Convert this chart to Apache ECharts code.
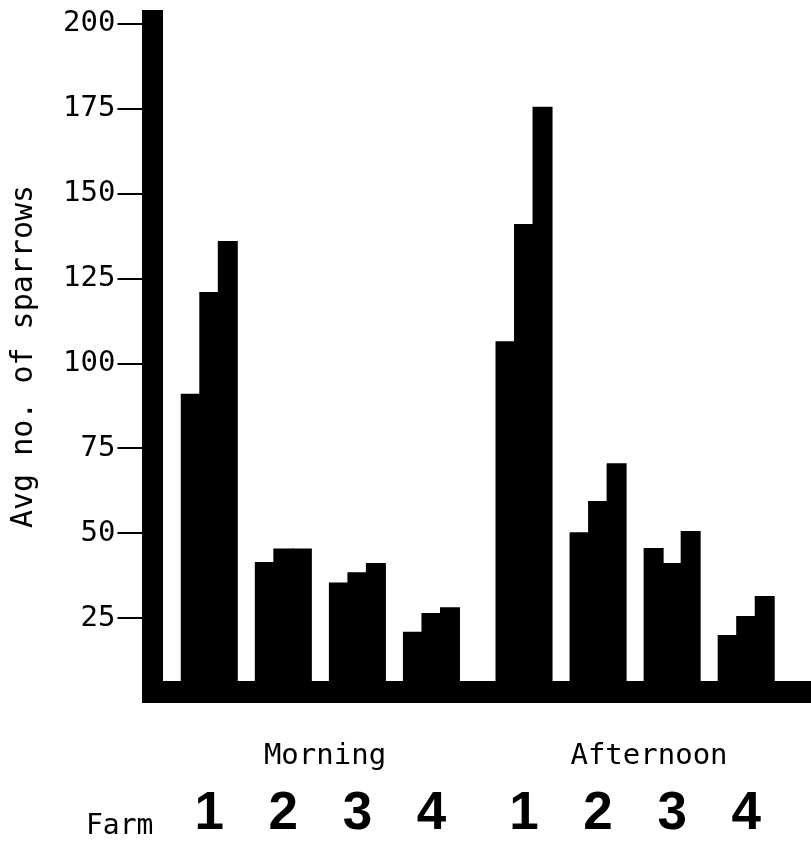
<!DOCTYPE html>
<html>
<head>
<meta charset="utf-8">
<script src="https://cdn.jsdelivr.net/npm/echarts@6/dist/echarts.min.js"></script>
<style>
html,body{margin:0;padding:0;background:#fff;}
#chart{width:811px;height:842px;}
</style>
</head>
<body>
<div id="chart"></div>
<script>
// ---- data ----
const periods = ['Morning', 'Afternoon'];
const farms = ['1', '2', '3', '4'];
const morningFarm1 = [91, 121, 136];
const morningFarm2 = [41.5, 45.5, 45.5];
const morningFarm3 = [35.5, 38.5, 41.2];
const morningFarm4 = [21, 26.5, 28.2];
const afternoonFarm1 = [106.5, 141, 175.5];
const afternoonFarm2 = [50.3, 59.5, 70.6];
const afternoonFarm3 = [45.6, 41.2, 50.6];
const afternoonFarm4 = [20, 25.6, 31.5];
const yTicks = [25, 50, 75, 100, 125, 150, 175, 200];
const yMax = 204;

// ---- build category slots: gaps and bars ----
const groups = {
  Morning: [morningFarm1, morningFarm2, morningFarm3, morningFarm4],
  Afternoon: [afternoonFarm1, afternoonFarm2, afternoonFarm3, afternoonFarm4]
};
const slots = [];
const values = [];
let gapCount = 0;
function addGap() { slots.push('gap' + (gapCount++)); values.push(null); }
periods.forEach(function (p, pi) {
  if (pi > 0) addGap();
  addGap();
  groups[p].forEach(function (arr, fi) {
    if (fi > 0) addGap();
    arr.forEach(function (v, bi) {
      slots.push(p + '|' + farms[fi] + '|' + bi);
      values.push(v);
    });
  });
});
addGap(); addGap();

const chart = echarts.init(document.getElementById('chart'));
chart.setOption({
  animation: false,
  backgroundColor: '#fff',
  grid: { left: 163, right: 0, top: 10, bottom: 139, containLabel: false },
  xAxis: [{
    type: 'category',
    data: slots,
    position: 'bottom',
    offset: -11,
    axisLine: { show: true, lineStyle: { color: '#000', width: 22, cap: 'butt' } },
    axisTick: { show: false },
    axisLabel: {
      interval: 0,
      margin: 122,
      verticalAlign: 'middle',
      color: '#000',
      fontFamily: 'Liberation Sans',
      fontWeight: 'bold',
      fontSize: 53,
      lineHeight: 53,
      formatter: function (v) {
        const parts = v.split('|');
        return (parts.length === 3 && parts[2] === '1') ? parts[1] : '';
      }
    },
    splitLine: { show: false }
  }, {
    type: 'category',
    data: periods,
    position: 'bottom',
    offset: 0,
    axisLine: { show: false },
    axisTick: { show: false },
    axisLabel: {
      interval: 0,
      margin: 53,
      verticalAlign: 'middle',
      color: '#000',
      fontFamily: 'DejaVu Sans Mono',
      fontSize: 29
    },
    splitLine: { show: false }
  }],
  yAxis: {
    type: 'value',
    min: 0,
    max: yMax,
    offset: 10.5,
    axisLine: { show: true, lineStyle: { color: '#000', width: 21, cap: 'butt' } },
    axisTick: { show: true, customValues: yTicks, length: 35, lineStyle: { color: '#000', width: 2 } },
    axisLabel: {
      customValues: yTicks,
      margin: 37,
      color: '#000',
      fontFamily: 'DejaVu Sans Mono',
      fontSize: 29
    },
    splitLine: { show: false },
    name: 'Avg no. of sparrows',
    nameLocation: 'middle',
    nameGap: 113,
    nameTextStyle: { color: '#000', fontFamily: 'DejaVu Sans Mono', fontSize: 30 }
  },
  series: [{
    type: 'bar',
    data: values,
    barWidth: 20,
    barCategoryGap: 0,
    itemStyle: { color: '#000' },
    z: 3
  }],
  graphic: [{
    type: 'text',
    left: 86,
    top: 813,
    style: { text: 'Farm', fill: '#000', font: '28px "DejaVu Sans Mono"' }
  }]
});
</script>
</body>
</html>
